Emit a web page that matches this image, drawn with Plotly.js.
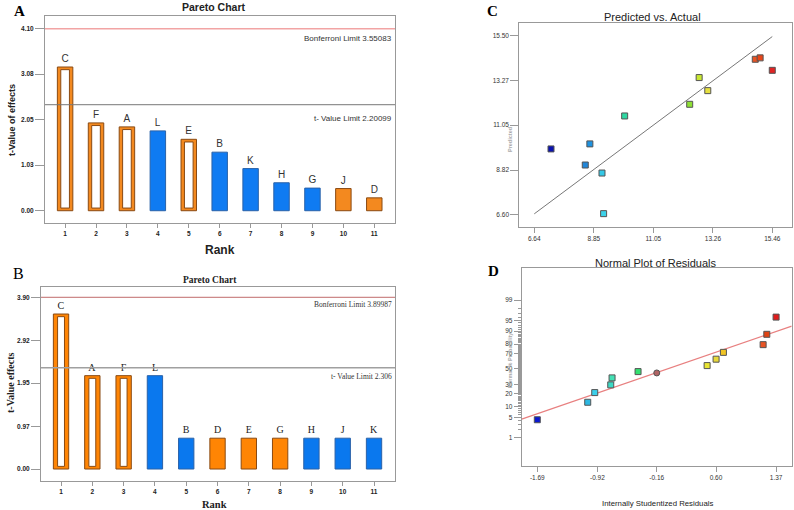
<!DOCTYPE html>
<html>
<head>
<meta charset="utf-8">
<script src="https://cdn.plot.ly/plotly-3.0.1.min.js"></script>
<style>html,body{margin:0;padding:0;background:#fff;}#chart{width:794px;height:510px;}</style>
</head>
<body>
<div id="chart"></div>
<script>
// ---------- Panel A : Pareto chart ----------
const A_labels = ['C','F','A','L','E','B','K','H','G','J','D'];
const A_values = [3.24, 1.98, 1.89, 1.80, 1.61, 1.32, 0.95, 0.63, 0.51, 0.50, 0.29];
const A_kind   = ['hollow','hollow','hollow','blue','hollow','blue','blue','blue','blue','orange','orange'];
const A_yticks = [0.00, 1.03, 2.05, 3.08, 4.10];
const A_bonfLine = 4.10, A_tLine = 2.39;
const A_bonfText = 'Bonferroni Limit 3.55083', A_tText = 't- Value Limit 2.20099';

// ---------- Panel B : Pareto chart ----------
const B_labels = ['C','A','F','L','B','D','E','G','H','J','K'];
const B_values = [3.52, 2.12, 2.12, 2.12, 0.70, 0.70, 0.70, 0.70, 0.70, 0.70, 0.70];
const B_kind   = ['hollow','hollow','hollow','blue','blue','orange','orange','orange','blue','blue','blue'];
const B_yticks = [0.00, 0.97, 1.95, 2.92, 3.90];
const B_bonfLine = 3.90, B_tLine = 2.30;
const B_bonfText = 'Bonferroni Limit 3.89987', B_tText = 't- Value Limit 2.306';

// ---------- Panel C : Predicted vs Actual ----------
const C_actual = [7.26, 8.70, 8.53, 9.15, 9.21, 9.99, 12.40, 12.75, 13.07, 14.83, 15.01, 15.46];
const C_pred   = [9.87, 10.12, 9.07, 8.67, 6.65, 11.51, 12.09, 13.42, 12.77, 14.33, 14.40, 13.78];
const C_colors = ['#0a12b0','#1e92e0','#2286d8','#34c8e6','#3cd2ea','#2ed8a2','#8ee034','#c8e832','#e6e040','#e85424','#e8461a','#e02424'];
const C_fit    = [6.64, 15.46];
const C_xticks = [6.64, 8.85, 11.05, 13.26, 15.46];
const C_yticks = [6.60, 8.82, 11.05, 13.27, 15.50];

// ---------- Panel D : Normal plot of residuals ----------
const D_resid = [-1.69, -1.044, -0.954, -0.749, -0.732, -0.399, -0.159, 0.486, 0.601, 0.695, 1.204, 1.251, 1.37];
const D_prob  = [4.3, 13.0, 21.2, 29.5, 38.1, 46.4, 44.6, 54.5, 62.9, 71.2, 79.4, 87.9, 96.0];
const D_colors = ['#0a18d0','#2cb8e2','#3ccfea','#3cd8c4','#44e0b4','#34e070','#b06464','#e8e432','#e8d83a','#f0c424','#e85424','#e04414','#e01c1c'];
const D_symbols = ['square','square','square','square','square','square','circle','square','square','square','square','square','square'];
const D_fitX = [-1.89, 1.57];
const D_fitP = [4.5, 92.6];
const D_xticks = [-1.69, -0.92, -0.16, 0.60, 1.37];
const D_pticks = [1, 5, 10, 20, 30, 50, 70, 80, 90, 95, 99];

// inverse normal CDF (Acklam) – normal probability scale
function probit(p){
  const a=[-3.969683028665376e+01,2.209460984245205e+02,-2.759285104469687e+02,1.383577518672690e+02,-3.066479806614716e+01,2.506628277459239e+00];
  const b=[-5.447609879822406e+01,1.615858368580409e+02,-1.556989798598866e+02,6.680131188771972e+01,-1.328068155288572e+01];
  const c=[-7.784894002430293e-03,-3.223964580411365e-01,-2.400758277161838e+00,-2.549732539343734e+00,4.374664141464968e+00,2.938163982698783e+00];
  const d=[7.784695709041462e-03,3.224671290700398e-01,2.445134137142996e+00,3.754408661907416e+00];
  const pl=0.02425, ph=1-pl; let q,r;
  if(p<pl){q=Math.sqrt(-2*Math.log(p));return (((((c[0]*q+c[1])*q+c[2])*q+c[3])*q+c[4])*q+c[5])/((((d[0]*q+d[1])*q+d[2])*q+d[3])*q+1);}
  if(p>ph){q=Math.sqrt(-2*Math.log(1-p));return -(((((c[0]*q+c[1])*q+c[2])*q+c[3])*q+c[4])*q+c[5])/((((d[0]*q+d[1])*q+d[2])*q+d[3])*q+1);}
  q=p-0.5;r=q*q;return (((((a[0]*r+a[1])*r+a[2])*r+a[3])*r+a[4])*r+a[5])*q/(((((b[0]*r+b[1])*r+b[2])*r+b[3])*r+b[4])*r+1);
}
const z = pct => probit(pct/100);

const SANS = 'Liberation Sans, Arial, sans-serif';
const SERIF = 'Liberation Serif, Times New Roman, serif';

// axis ranges (layout)
const A_xr = [0.35, 11.67], A_yr = [-0.27, 4.39];
const B_xr = [0.36, 11.67], B_yr = [-0.265, 4.145];

function pareto(labels, values, kinds, xa, ya, pal, outerW, innerW, inset, textFont){
  const ranks = labels.map((_,i)=>i+1);
  const fill = kinds.map(k => k==='blue' ? pal.blue : pal.orange);
  const edge = kinds.map(k => k==='blue' ? pal.blueEdge : pal.orangeEdge);
  const outer = {type:'bar', x:ranks, y:values, xaxis:xa, yaxis:ya, width:outerW,
    marker:{color:fill, line:{color:edge, width:1}}, text:labels, textposition:'outside',
    textfont:textFont, cliponaxis:false, constraintext:'none', hoverinfo:'skip'};
  const hx=[], hy=[];
  kinds.forEach((k,i)=>{ if(k==='hollow'){ hx.push(ranks[i]); hy.push(values[i]-2*inset); } });
  const inner = {type:'bar', x:hx, y:hy, base:inset, xaxis:xa, yaxis:ya, width:innerW,
    marker:{color:'#ffffff', line:{color:pal.orangeEdge, width:1}}, hoverinfo:'skip'};
  return [outer, inner];
}
function hline(xr, yv, xa, ya, color, width){
  return {type:'scatter', mode:'lines', x:xr, y:[yv,yv], xaxis:xa, yaxis:ya, line:{color:color, width:width}, hoverinfo:'skip'};
}

const palA = {orange:'#f3891f', orangeEdge:'#8a4a12', blue:'#0f7bf2', blueEdge:'#2a62a8'};
const palB = {orange:'#ff8504', orangeEdge:'#8a4a12', blue:'#0a78ee', blueEdge:'#2a62a8'};

const traces = [
  hline(A_xr, A_bonfLine, 'x', 'y', '#f2a4a4', 1.5),
  hline(A_xr, A_tLine, 'x', 'y', '#777', 1),
  hline(B_xr, B_bonfLine, 'x2', 'y2', '#c06a6a', 1),
  hline(B_xr, B_tLine, 'x2', 'y2', '#a0a0a0', 1.5),
  ...pareto(A_labels, A_values, A_kind, 'x', 'y', palA, 0.5, 0.28, 0.06, {family:SANS, size:10, color:'#333'}),
  ...pareto(B_labels, B_values, B_kind, 'x2', 'y2', palB, 0.49, 0.22, 0.06, {family:SERIF, size:10, color:'#222'}),
  {type:'scatter', mode:'lines', x:C_fit, y:C_fit, xaxis:'x3', yaxis:'y3', line:{color:'#777', width:1}, hoverinfo:'skip'},
  {type:'scatter', mode:'markers', x:C_actual, y:C_pred, xaxis:'x3', yaxis:'y3',
    marker:{symbol:'square', size:6, color:C_colors, line:{color:'#555', width:1}}},
  {type:'scatter', mode:'lines', x:D_fitX, y:D_fitP.map(z), xaxis:'x4', yaxis:'y4', line:{color:'#e88080', width:1.2}, hoverinfo:'skip'},
  {type:'scatter', mode:'markers', x:D_resid, y:D_prob.map(z), xaxis:'x4', yaxis:'y4',
    marker:{symbol:D_symbols, size:6, color:D_colors, line:{color:'#555', width:1}}}
];

const W=794, H=510;
const px = v => v/W, py = v => 1 - v/H;

function baseAxis(extra){
  return Object.assign({showgrid:false, zeroline:false, showline:true, mirror:true, linecolor:'#999', linewidth:1,
    ticks:'outside', tickcolor:'#999', tickwidth:1, fixedrange:true, automargin:false}, extra);
}
const tickFontBold = {family:SANS, size:6.5, color:'#222', weight:'bold'};
const tickFontC = {family:SANS, size:6.5, color:'#333'};
const fmt2 = v => v.toFixed(2);
const minorP = [];
for(let p=2;p<=98;p++){ if(!D_pticks.includes(p)) minorP.push(z(p)); }

function note(x, y, text, font, extra){
  return Object.assign({xref:'paper', yref:'paper', x:px(x), y:py(y), xanchor:'center', yanchor:'middle', showarrow:false, text:text, font:font}, extra||{});
}

const layout = {
  width:W, height:H, margin:{l:0,r:0,t:0,b:0,pad:0}, paper_bgcolor:'#fff', plot_bgcolor:'#fff',
  showlegend:false, barmode:'overlay',
  xaxis: baseAxis({domain:[px(45),px(395)], range:A_xr, tickmode:'array', tickvals:A_labels.map((_,i)=>i+1), ticklen:4, tickfont:tickFontBold, anchor:'y'}),
  yaxis: baseAxis({domain:[py(222.7),py(16)], range:A_yr, tickmode:'array', tickvals:A_yticks, ticktext:A_yticks.map(fmt2), ticklen:9, tickfont:tickFontBold, anchor:'x'}),
  xaxis2: baseAxis({domain:[px(41),px(395)], range:B_xr, tickmode:'array', tickvals:B_labels.map((_,i)=>i+1), ticklen:4, tickfont:tickFontBold, anchor:'y2'}),
  yaxis2: baseAxis({domain:[py(480.7),py(286.5)], range:B_yr, tickmode:'array', tickvals:B_yticks, ticktext:B_yticks.map(fmt2), ticklen:9, tickfont:tickFontBold, anchor:'x2'}),
  xaxis3: baseAxis({domain:[px(519.3),px(791.7)], range:[6.085,16.18], tickmode:'array', tickvals:C_xticks, ticktext:C_xticks.map(fmt2), ticklen:5, tickfont:tickFontC, anchor:'y3'}),
  yaxis3: baseAxis({domain:[py(226.7),py(23.3)], range:[6.0,16.12], tickmode:'array', tickvals:C_yticks, ticktext:C_yticks.map(fmt2), ticklen:8, tickfont:tickFontC, anchor:'x3'}),
  xaxis4: baseAxis({domain:[px(521.7),px(791.7)], range:[-1.89,1.57], tickmode:'array', tickvals:D_xticks, ticktext:D_xticks.map(fmt2), ticklen:5, tickfont:tickFontC, anchor:'y4'}),
  yaxis4: baseAxis({domain:[py(466),py(268.3)], range:[-3.28,3.40], tickmode:'array', tickvals:D_pticks.map(z), ticktext:D_pticks.map(String), ticklen:7, tickfont:tickFontC, anchor:'x4',
    minor:{tickmode:'array', tickvals:minorP, ticks:'outside', ticklen:3, tickcolor:'#999', tickwidth:1}}),
  annotations: [
    // limit labels
    {xref:'x domain', yref:'y', x:1, y:A_bonfLine, xanchor:'right', yanchor:'top', yshift:-3, xshift:-1, showarrow:false, text:A_bonfText, font:{family:SANS, size:8, color:'#333'}},
    {xref:'x domain', yref:'y', x:1, y:A_tLine, xanchor:'right', yanchor:'top', yshift:-7, xshift:-1, showarrow:false, text:A_tText, font:{family:SANS, size:8, color:'#333'}},
    {xref:'x2 domain', yref:'y2', x:1, y:B_bonfLine, xanchor:'right', yanchor:'top', yshift:-1, xshift:-1, showarrow:false, text:B_bonfText, font:{family:SERIF, size:7.5, color:'#333'}},
    {xref:'x2 domain', yref:'y2', x:1, y:B_tLine, xanchor:'right', yanchor:'top', yshift:-2, xshift:-1, showarrow:false, text:B_tText, font:{family:SERIF, size:7.5, color:'#333'}},
    // panel letters
    note(19, 11, '<b>A</b>', {family:SERIF, size:15, color:'#000'}),
    note(18, 273, 'B', {family:SERIF, size:16, color:'#000'}),
    note(492, 11, '<b>C</b>', {family:SERIF, size:15, color:'#000'}),
    note(493, 271, '<b>D</b>', {family:SERIF, size:15, color:'#000'}),
    // titles
    note(214, 7, '<b>Pareto Chart</b>', {family:SANS, size:10.5, color:'#222'}),
    note(210, 280, '<b>Pareto Chart</b>', {family:SERIF, size:9.5, color:'#222'}),
    note(652, 17, 'Predicted vs. Actual', {family:SANS, size:11, color:'#222'}),
    note(656, 263, 'Normal Plot of Residuals', {family:SANS, size:11, color:'#222'}),
    // axis titles
    note(12, 120, '<b>t-Value of effects</b>', {family:SANS, size:9, color:'#222'}, {textangle:-90}),
    note(220, 250, '<b>Rank</b>', {family:SANS, size:12, color:'#222'}),
    note(10, 383, '<b>t-Value effects</b>', {family:SERIF, size:10, color:'#222'}, {textangle:-90}),
    note(214, 504, '<b>Rank</b>', {family:SERIF, size:10.5, color:'#222'}),
    note(510, 140, '<b>Predicted</b>', {family:SANS, size:5.5, color:'#aaa'}, {textangle:-90}),
    note(510, 360, '<b>Normal % Probability</b>', {family:SANS, size:5.5, color:'#aaa'}, {textangle:-90}),
    note(657, 503, 'Internally Studentized Residuals', {family:SANS, size:7.8, color:'#222'})
  ]
};

Plotly.newPlot('chart', traces, layout, {staticPlot:true, displayModeBar:false});
</script>
</body>
</html>
